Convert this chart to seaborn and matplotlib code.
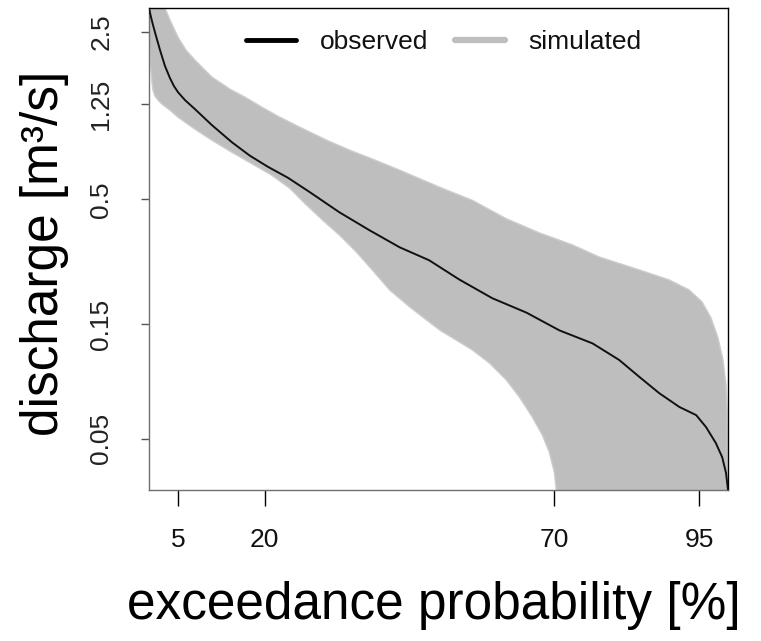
import numpy as np
import pandas as pd
import seaborn as sns
import matplotlib
matplotlib.use("Agg")
import matplotlib.pyplot as plt
from matplotlib.lines import Line2D

# Observed flow duration curve: exceedance probability [%] vs discharge [m3/s]
obs_p = [0.0, 0.34, 0.69, 1.21, 1.90, 2.76, 3.62, 4.31, 5.0, 6.21, 7.93, 10.86, 14.31,
         17.41, 20.52, 24.0, 27.8, 32.9, 38.1, 43.3, 48.4, 53.6, 59.3, 65.2, 70.9, 76.6,
         81.2, 84.7, 88.1, 91.6, 94.5, 96.2, 97.9, 99.0, 99.66, 100.0]
obs_q = [3.15, 2.889, 2.675, 2.406, 2.102, 1.802, 1.605, 1.486, 1.402, 1.299, 1.191, 1.021,
         0.866, 0.761, 0.684, 0.615, 0.535, 0.441, 0.371, 0.315, 0.278, 0.231, 0.193, 0.168,
         0.1416, 0.125, 0.1066, 0.0905, 0.0775, 0.0678, 0.0627, 0.0559, 0.0479, 0.0418,
         0.0359, 0.0305]

# Upper and lower envelope of the simulated flow duration curves
sim_hi_p = [0.0, 2.0, 2.76, 3.62, 5.0, 6.38, 7.93, 10.86, 13.97, 16.55, 19.48, 22.24,
            26.03, 30.69, 34.66, 38.62, 43.28, 50.17, 55.86, 61.72, 67.41, 73.10, 77.76,
            84.66, 89.83, 93.28, 95.52, 97.07, 98.28, 99.14, 99.66, 99.83, 100.0, 100.0]
sim_hi_q = [4.5, 3.4, 3.15, 2.807, 2.383, 2.102, 1.909, 1.621, 1.443, 1.337, 1.214, 1.113,
            1.001, 0.883, 0.802, 0.736, 0.662, 0.562, 0.495, 0.4146, 0.362, 0.3227, 0.2870,
            0.2536, 0.2303, 0.2091, 0.1863, 0.1597, 0.1317, 0.1066, 0.0838, 0.0658, 0.0305,
            0.02]
sim_lo_p = [0.0, 0.17, 0.34, 0.52, 0.69, 1.03, 1.55, 2.24, 3.62, 5.0, 7.93, 10.86, 13.97,
            16.55, 19.14, 21.21, 24.31, 26.9, 30.0, 32.93, 35.86, 38.62, 41.55, 45.0, 50.17,
            55.86, 58.79, 61.72, 63.97, 66.21, 67.93, 69.14, 70.0, 70.34, 71.2, 100.0]
sim_lo_q = [2.315, 2.004, 1.734, 1.545, 1.430, 1.350, 1.299, 1.249, 1.179, 1.102, 0.982,
            0.883, 0.795, 0.732, 0.674, 0.630, 0.556, 0.481, 0.4087, 0.3537, 0.3002, 0.2524,
            0.2091, 0.1776, 0.1423, 0.1173, 0.1035, 0.0879, 0.0746, 0.0615, 0.0517, 0.0439,
            0.0362, 0.0305, 0.0228, 0.01]

x_ticks = [5, 20, 70, 95]
y_ticks = [0.05, 0.15, 0.5, 1.25, 2.5]
y_tick_labels = ["0.05", "0.15", "0.5", "1.25", "2.5"]

sns.set_theme(style="white")
plt.rcParams["font.family"] = ["Liberation Sans", "DejaVu Sans"]

fig = plt.figure(figsize=(7.61, 6.41), dpi=100)
ax = fig.add_axes([149 / 761, 1 - 490 / 641, 579 / 761, 482 / 641])

sim_grey = "#BEBEBE"
# shaded band spanned by all simulated curves
ax.fill(np.concatenate([sim_hi_p, sim_lo_p[::-1]]),
        np.concatenate([sim_hi_q, sim_lo_q[::-1]]),
        color=sim_grey, lw=0, zorder=1)
for p, q in [(sim_hi_p, sim_hi_q), (sim_lo_p, sim_lo_q)]:
    edge = pd.DataFrame({"p": p, "q": q})
    sns.lineplot(data=edge, x="p", y="q", sort=False, color="#CDCDCD", lw=1.0,
                 ax=ax, zorder=2)

obs = pd.DataFrame({"p": obs_p, "q": obs_q})
sns.lineplot(data=obs, x="p", y="q", sort=False, color="#111111", lw=1.4, ax=ax, zorder=3)

ax.set_yscale("log")
ax.set_xlim(0, 100)
ax.set_ylim(0.0305, 3.15)
ax.minorticks_off()
ax.set_xticks(x_ticks)
ax.set_xticklabels([str(t) for t in x_ticks])
ax.set_yticks(y_ticks)
ax.set_yticklabels(y_tick_labels, rotation=90, va="center")

ax.tick_params(axis="x", which="major", length=11.5, width=1.0, color="black",
               labelsize=19, pad=16, labelcolor="#111111", bottom=True)
ax.tick_params(axis="y", which="major", length=5.8, width=1.0, color="#555555",
               labelsize=19, pad=20, labelcolor="#222222", left=True)

for side in ["top", "right"]:
    ax.spines[side].set_color("black")
    ax.spines[side].set_linewidth(1.0)
for side in ["left", "bottom"]:
    ax.spines[side].set_color("#707070")
    ax.spines[side].set_linewidth(1.0)

ax.set_xlabel("")
ax.set_ylabel("")
fig.text(434 / 761, 1 - 605 / 641, "exceedance probability [%]", fontsize=37,
         ha="center", va="center", color="black")
fig.text(45 / 761, 1 - 253 / 641, "discharge [m³/s]", fontsize=37,
         ha="center", va="center", rotation=90, color="black")

handles = [Line2D([], [], color="black", lw=3.5),
           Line2D([], [], color=sim_grey, lw=4.5)]
ax.legend(handles, ["observed", "simulated"], loc="center", ncol=2,
          bbox_to_anchor=(444 / 761, 1 - 42 / 641), bbox_transform=fig.transFigure,
          frameon=False, fontsize=19, handlelength=1.9, handletextpad=0.9,
          columnspacing=1.0, labelcolor="#111111")

fig.savefig("out.png", dpi=100)
